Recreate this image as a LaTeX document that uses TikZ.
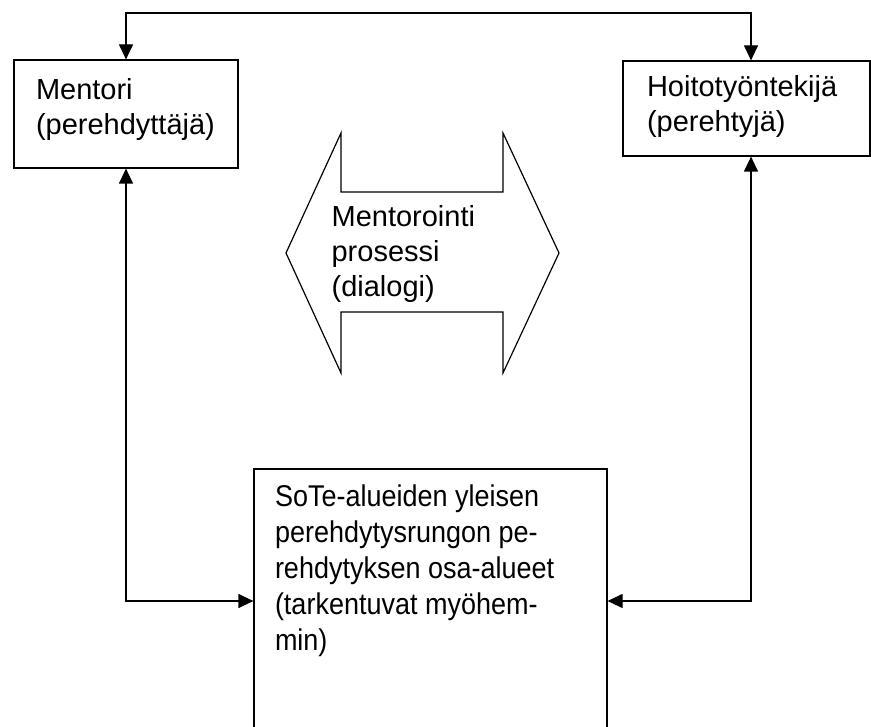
\documentclass[tikz,border=0pt]{standalone}
\usepackage{fontspec}
\setmainfont{Liberation Sans}
\newfontfamily\narrowsans[FakeStretch=0.9]{Liberation Sans}
\usetikzlibrary{arrows.meta, calc, positioning}

\begin{document}
\begin{tikzpicture}[x=1pt, y=-1pt, >={Triangle[length=15pt, width=14pt]}, line width=1.2pt,
    box/.style={draw, rectangle, inner sep=0pt},
    txt/.style={inner sep=0pt, anchor=north west, align=left, font=\fontsize{29}{35}\selectfont}]
    \useasboundingbox (0,0) rectangle (871,727);
    \clip (0,0) rectangle (871,727);

    % 1. Laatikot ja niiden tekstit
    \node[box, minimum width=224pt, minimum height=108pt] (mentori) at (126,114) {};
    \node[txt] (mentoritxt) at ($(mentori.north west)+(22,18)$) {Mentori\\(perehdyttäjä)};
    \node[box, minimum width=247pt, minimum height=95pt] (hoito) at (746.5,108.5) {};
    \node[txt] (hoitotxt) at ($(hoito.north west)+(24,14)$) {Hoitotyöntekijä\\(perehtyjä)};
    \node[box, minimum width=353pt, minimum height=290pt] (sote) at (430.5,614) {};
    \node[txt, font=\narrowsans\fontsize{30}{36}\selectfont] (sotetxt) at ($(sote.north west)+(21,16)$)
      {SoTe-alueiden yleisen\\perehdytysrungon pe-\\rehdytyksen osa-alueet\\(tarkentuvat myöhem-\\min)};

    % 2. Kaksoisnuoli keskellä
    \draw (286,253) -- (341,133) -- (341,192) -- (503,192) -- (503,133) -- (559,253)
      -- (503,373) -- (503,312) -- (341,312) -- (341,373) -- cycle;
    \node[txt] (dialogi) at (331,205) {Mentorointi\\prosessi\\(dialogi)};

    % 3. Yhdysviivat
    \coordinate (ylin) at (0,13);
    \coordinate (ala) at (0,601);
    \draw[<->] (mentori.north) -- (mentori.north |- ylin) -| ([xshift=4.5pt]hoito.north);
    \draw[<->] (mentori.south) |- (sote.west |- ala);
    \draw[<->] ([xshift=4.5pt]hoito.south) |- (sote.east |- ala);
\end{tikzpicture}
\end{document}
